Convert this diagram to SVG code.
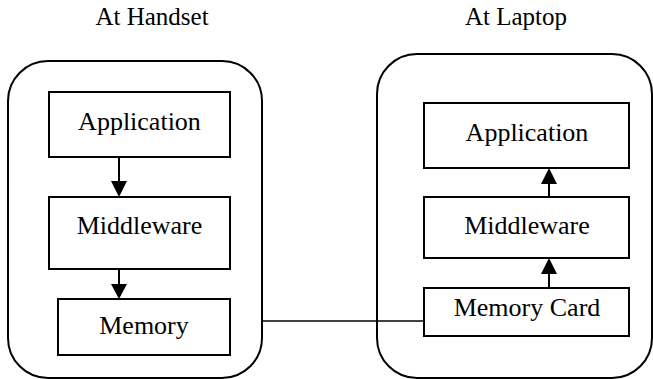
<svg xmlns="http://www.w3.org/2000/svg" width="653" height="379" viewBox="0 0 653 379">
<style>
.box{fill:#fff;stroke:#000;stroke-width:2}
.outer{fill:#fff;stroke:#000;stroke-width:2}
text{font-family:"Liberation Serif","Times New Roman",serif;font-size:26px;fill:#000;text-anchor:middle}
.hdr{font-size:25px}
.conn{stroke:#000;stroke-width:2;fill:none}
.head{fill:#000}
</style>
<text class="hdr" x="152" y="25">At Handset</text>
<text class="hdr" x="516" y="25">At Laptop</text>
<g id="handset">
<rect class="outer" x="8" y="61" width="254" height="317" rx="40" ry="40"/>
</g>
<g id="laptop">
<rect class="outer" x="377" y="54" width="275" height="324" rx="40" ry="40"/>
</g>
<g id="h-app"><rect class="box" x="49" y="92" width="181" height="65"/><text x="139.5" y="130">Application</text></g>
<g id="h-mid"><rect class="box" x="49" y="197" width="181" height="72"/><text x="139.5" y="234">Middleware</text></g>
<g id="h-mem"><rect class="box" x="58" y="299" width="172" height="56"/><text x="144" y="334">Memory</text></g>
<g id="l-app"><rect class="box" x="424" y="103" width="205" height="65"/><text x="527" y="141">Application</text></g>
<g id="l-mid"><rect class="box" x="424" y="197" width="205" height="61"/><text x="527" y="234">Middleware</text></g>
<g id="l-mem"><rect class="box" x="424" y="288" width="205" height="48"/><text x="527" y="316">Memory Card</text></g>
<g id="connectors">
<line x1="119" y1="157" x2="119" y2="182" class="conn"/>
<polygon class="head" points="111,181 127,181 119,197"/>
<line x1="119" y1="269" x2="119" y2="285" class="conn"/>
<polygon class="head" points="111,284 127,284 119,299"/>
<line x1="549" y1="197" x2="549" y2="182" class="conn"/>
<polygon class="head" points="541,184 557,184 549,168"/>
<line x1="549" y1="288" x2="549" y2="272" class="conn"/>
<polygon class="head" points="541,274 557,274 549,258"/>
<line x1="262" y1="321" x2="424" y2="321" stroke="#000" stroke-width="1.5"/>
</g>
</svg>
